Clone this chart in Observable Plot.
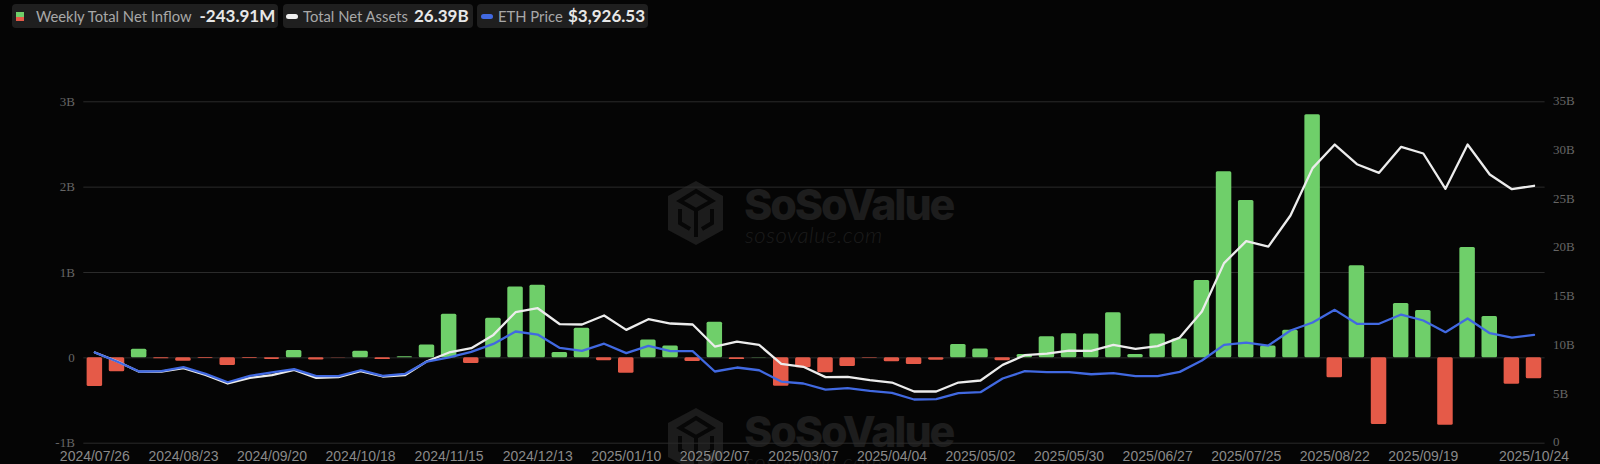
<!DOCTYPE html>
<html><head><meta charset="utf-8">
<script src="https://cdn.jsdelivr.net/npm/d3@7"></script>
<script src="https://cdn.jsdelivr.net/npm/@observablehq/plot@0.6"></script>
<style>
html,body{margin:0;background:#050505;width:1600px;height:464px;overflow:hidden}
#root{position:relative;width:1600px;height:464px;overflow:hidden}
#legend{position:absolute;left:0;top:0;width:1600px;height:32px;font-family:Lato,sans-serif}
.chip{position:absolute;top:4px;height:24px;background:#1f1f1f;border-radius:4px;box-sizing:border-box}
.chip span{position:absolute;top:0;line-height:24px;white-space:nowrap}
.lab{color:#a8a8a8;font-size:14.8px}
.val{color:#e8e8e8;font-size:17px;font-weight:700}
.sw{position:absolute}
.wm{position:absolute;left:0;width:1600px;height:90px}
.wm .a{position:absolute;left:744px;top:1px;font:800 43px Inter,sans-serif;letter-spacing:-2.1px;color:#1d1d1d;line-height:45px;white-space:nowrap}
.wm .b{position:absolute;left:745px;top:42px;font:italic 300 22px Lato,sans-serif;color:#1c1c1c;letter-spacing:.6px;line-height:24px;white-space:nowrap}
#chart{position:absolute;left:0;top:32px}
#chart svg{display:block}
</style></head><body>
<div id="root">
<div class="wm" style="top:181px"><svg width="1600" height="90" style="position:absolute;left:0;top:-4px"><g fill="none" stroke="#1c1c1c"><path d="M696 4 L723 19 L723 53 L696 68 L668 53 L668 19 Z" fill="#1c1c1c" stroke="none"/><path d="M696 14 L712 24 L696 33 L680 24 Z M680 32 L680 46 L690 52 M712 32 L712 46 L702 52 M696 33 L696 60" stroke="#070707" stroke-width="4"/></g></svg><div class="a">SoSoValue</div><div class="b">sosovalue.com</div></div>
<div class="wm" style="top:408px"><svg width="1600" height="90" style="position:absolute;left:0;top:-4px"><g fill="none" stroke="#1c1c1c"><path d="M696 4 L723 19 L723 53 L696 68 L668 53 L668 19 Z" fill="#1c1c1c" stroke="none"/><path d="M696 14 L712 24 L696 33 L680 24 Z M680 32 L680 46 L690 52 M712 32 L712 46 L702 52 M696 33 L696 60" stroke="#070707" stroke-width="4"/></g></svg><div class="a">SoSoValue</div><div class="b">sosovalue.com</div></div>
<div id="legend">
<div class="chip" style="left:12px;width:266px"><i class="sw" style="left:4px;top:8px;width:8px;height:4.5px;background:#6fcf6a"></i><i class="sw" style="left:4px;top:12.5px;width:8px;height:4.5px;background:#e55a48"></i><span class="lab" style="left:24px">Weekly Total Net Inflow</span><span class="val" style="left:187.5px">-243.91M</span></div>
<div class="chip" style="left:283px;width:190px"><i class="sw" style="left:3px;top:10px;width:12px;height:5px;border-radius:2.5px;background:#eee"></i><span class="lab" style="left:20px">Total Net Assets</span><span class="val" style="left:131px">26.39B</span></div>
<div class="chip" style="left:477px;width:171px"><i class="sw" style="left:4px;top:10px;width:12px;height:5px;border-radius:2.5px;background:#4169e1"></i><span class="lab" style="left:21px">ETH Price</span><span class="val" style="left:91px">$3,926.53</span></div>
</div>
<div id="chart"></div>
</div>
<script>
const dates = ["2024/07/26","2024/08/02","2024/08/09","2024/08/16","2024/08/23","2024/08/30","2024/09/06","2024/09/13","2024/09/20","2024/09/27","2024/10/04","2024/10/11","2024/10/18","2024/10/25","2024/11/01","2024/11/08","2024/11/15","2024/11/22","2024/11/29","2024/12/06","2024/12/13","2024/12/20","2024/12/27","2025/01/03","2025/01/10","2025/01/17","2025/01/24","2025/01/31","2025/02/07","2025/02/14","2025/02/21","2025/02/28","2025/03/07","2025/03/14","2025/03/21","2025/03/28","2025/04/04","2025/04/11","2025/04/18","2025/04/25","2025/05/02","2025/05/09","2025/05/16","2025/05/23","2025/05/30","2025/06/06","2025/06/13","2025/06/20","2025/06/27","2025/07/04","2025/07/11","2025/07/18","2025/07/25","2025/08/01","2025/08/08","2025/08/15","2025/08/22","2025/08/29","2025/09/05","2025/09/12","2025/09/19","2025/09/26","2025/10/03","2025/10/10","2025/10/17","2025/10/24"];
const netInflow = [-0.336,-0.164,0.10,-0.012,-0.04,-0.008,-0.09,-0.008,-0.018,0.086,-0.025,-0.003,0.078,-0.02,0.012,0.152,0.51,-0.066,0.465,0.83,0.85,0.0625,0.348,-0.035,-0.18,0.21,0.14,-0.043,0.418,-0.02,0.003,-0.332,-0.117,-0.176,-0.10,-0.005,-0.047,-0.078,-0.027,0.156,0.105,-0.035,0.04,0.246,0.281,0.28,0.527,0.04,0.28,0.22,0.906,2.18,1.844,0.14,0.324,2.848,-0.234,1.078,-0.78,0.637,0.555,-0.79,1.293,0.484,-0.309,-0.244];
const totalNetAssets = [9.3,8.4,7.33,7.33,7.69,7.0,6.12,6.7,6.97,7.52,6.7,6.77,7.38,6.84,6.97,8.4,9.3,9.74,11.1,13.43,13.84,12.2,12.17,13.09,11.62,12.71,12.27,12.17,9.91,10.42,10.08,8.13,7.83,6.77,6.8,6.46,6.22,5.3,5.3,6.22,6.43,8.03,9.02,9.19,9.5,9.47,10.08,9.67,9.95,10.83,13.5,18.46,20.71,20.16,23.34,28.2,30.62,28.6,27.72,30.38,29.7,26.08,30.62,27.55,26.04,26.39];
const ethPriceOnRightAxis = [9.3,8.37,7.35,7.38,7.8,7.1,6.25,6.9,7.25,7.6,6.87,6.87,7.48,6.9,7.1,8.37,8.8,9.36,10.18,11.45,11.14,9.77,9.47,10.2,9.23,9.98,9.43,9.43,7.35,7.76,7.48,6.32,6.12,5.5,5.64,5.37,5.16,4.48,4.51,5.13,5.23,6.63,7.38,7.28,7.28,7.07,7.18,6.87,6.87,7.31,8.48,10.08,10.32,10.01,11.55,12.37,13.67,12.24,12.24,13.19,12.58,11.38,12.78,11.28,10.83,11.1];
const xTickLabels = ["2024/07/26","2024/08/23","2024/09/20","2024/10/18","2024/11/15","2024/12/13","2025/01/10","2025/02/07","2025/03/07","2025/04/04","2025/05/02","2025/05/30","2025/06/27","2025/07/25","2025/08/22","2025/09/19","2025/10/24"];
const leftTicks = [-1,0,1,2,3];
const rightTicks = [0,5,10,15,20,25,30,35];

const toLeft = d3.scaleLinear([0,35],[-1,3]);
const bars = dates.map((d,i)=>({d,v:netInflow[i]}));
const white = dates.map((d,i)=>({d,v:toLeft(totalNetAssets[i])}));
const blue = dates.map((d,i)=>({d,v:toLeft(ethPriceOnRightAxis[i])}));
const fmtL = v => v===0 ? "0" : v+"B";

const plot = Plot.plot({
  width:1600, height:432,
  marginLeft:83.3, marginRight:55.4, marginTop:69.3, marginBottom:21.3,
  style:{background:"transparent"},
  x:{type:"band",domain:dates,paddingInner:0.3,paddingOuter:0.15,round:false,label:null},
  y:{domain:[-1,3],label:null},
  marks:[
    Plot.ruleY(leftTicks,{stroke:"#2b2b2b",strokeWidth:1}),
    Plot.barY(bars,{x:"d",y:"v",fill:d=>d.v>=0?"#6fcf6a":"#e55a48",rx:1.5}),
    Plot.lineY(white,{x:"d",y:"v",stroke:"#ececec",strokeWidth:2.3}),
    Plot.lineY(blue,{x:"d",y:"v",stroke:"#4169e1",strokeWidth:2.3}),
    Plot.axisY(leftTicks,{anchor:"left",tickSize:0,tickPadding:9,tickFormat:fmtL,label:null,fill:"#666",fontFamily:"Liberation Serif",fontSize:13}),
    Plot.axisY(rightTicks.map(toLeft),{anchor:"right",tickSize:0,tickPadding:8,tickFormat:v=>fmtL(Math.round(toLeft.invert(v))),label:null,fill:"#666",fontFamily:"Liberation Serif",fontSize:13,dy:-1}),
    Plot.axisX(xTickLabels,{anchor:"bottom",tickSize:0,tickPadding:7.5,label:null,fill:"#8a8a8a",fontFamily:"Liberation Sans",fontSize:14})
  ]
});
document.getElementById("chart").appendChild(plot);
</script>
</body></html>
